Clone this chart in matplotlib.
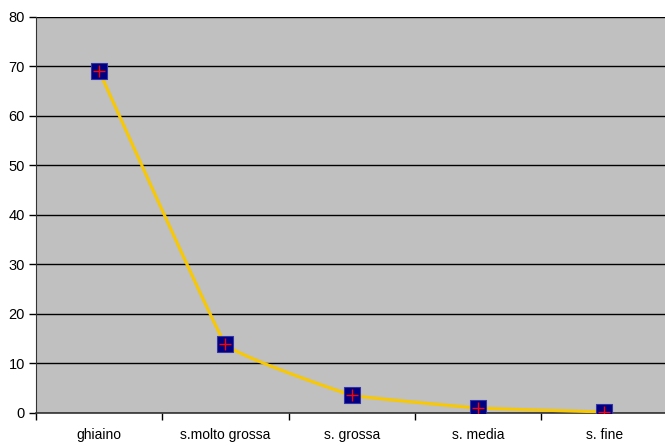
import numpy as np
import matplotlib.pyplot as plt

# data
categories = ['ghiaino', 's.molto grossa', 's. grossa', 's. media', 's. fine']
values = [69.1, 13.9, 3.6, 1.0, 0.2]

plt.rcParams['font.family'] = ['Liberation Sans', 'DejaVu Sans']


def smooth(x, y, k=0.1, n=30):
    # light cardinal spline through the points (excel "smoothed line")
    px = np.concatenate([[2 * x[0] - x[1]], x, [2 * x[-1] - x[-2]]])
    py = np.concatenate([[2 * y[0] - y[1]], y, [2 * y[-1] - y[-2]]])
    t = np.linspace(0, 1, n)
    h00 = 2 * t**3 - 3 * t**2 + 1
    h10 = t**3 - 2 * t**2 + t
    h01 = -2 * t**3 + 3 * t**2
    h11 = t**3 - t**2
    xs, ys = [], []
    for i in range(1, len(px) - 2):
        for p, out in ((px, xs), (py, ys)):
            m1 = k * (p[i + 1] - p[i - 1])
            m2 = k * (p[i + 2] - p[i])
            out.append(h00 * p[i] + h10 * m1 + h01 * p[i + 1] + h11 * m2)
    return np.concatenate(xs), np.concatenate(ys)


x = np.arange(len(categories), dtype=float)
y = np.array(values)
sx, sy = smooth(x, y)

fig = plt.figure(figsize=(6.65, 4.46), dpi=100)
ax = fig.add_axes([0.054, 0.074, 0.95, 0.888])
ax.set_facecolor('#c0c0c0')

ax.plot(sx, sy, color='#f8c800', lw=2.2, zorder=3)
ax.plot(x, y, 's', ms=11, mfc='#000080', mec='#3333aa', mew=0.8, zorder=4)
ax.plot(x, y, '+', ms=8, color='#ff0000', mew=1.0, zorder=5)

ax.set_xlim(-0.5, 4.5)
ax.set_ylim(0, 80)
ax.set_yticks(range(0, 81, 10))
ax.yaxis.grid(True, color='black', lw=1)
ax.set_axisbelow(True)

ax.set_xticks(x)
ax.set_xticklabels(categories)
ax.set_xticks(np.arange(-0.5, 4.6, 1), minor=True)
ax.tick_params(axis='x', which='major', length=0, pad=11, labelsize=10)
ax.tick_params(axis='x', which='minor', length=5, width=1, direction='out')
ax.tick_params(axis='y', length=5, width=1, direction='out', labelsize=10.5, pad=3)

for s in ['top', 'right']:
    ax.spines[s].set_visible(False)
ax.spines['left'].set_color('#333333')
ax.spines['bottom'].set_color('#333333')
ax.spines['bottom'].set_linewidth(1.2)

fig.savefig('out.png', dpi=100)
